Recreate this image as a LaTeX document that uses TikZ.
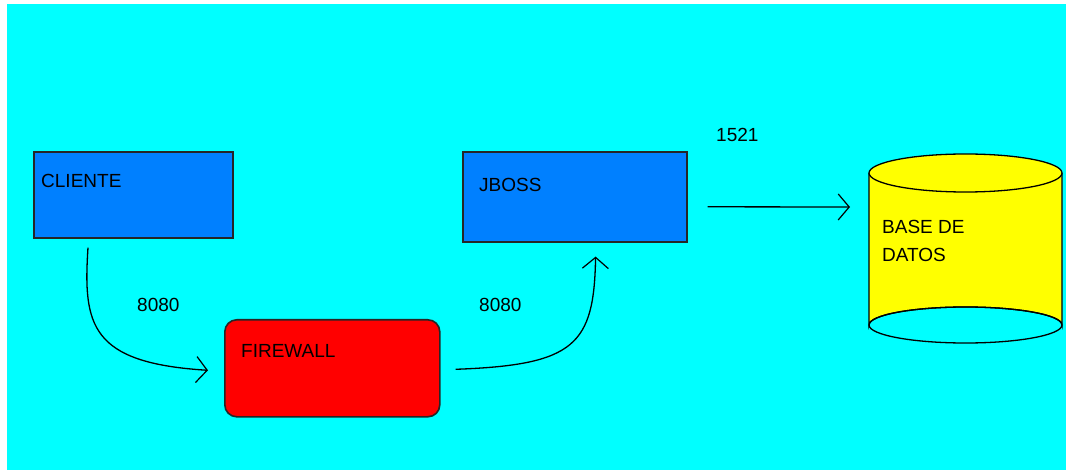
\documentclass[tikz,border=0pt]{standalone}
\usepackage{fontspec}
\setmainfont{Liberation Sans}
\usetikzlibrary{arrows.meta}
\definecolor{bgcyan}{HTML}{00FFFF}
\definecolor{boxblue}{HTML}{0080FF}
\definecolor{fwred}{HTML}{FF0000}
\definecolor{dbyellow}{HTML}{FFFF00}
\tikzset{
  box/.style={draw=black!85, line width=1.6pt, inner sep=0pt, anchor=north west},
  lbl/.style={anchor=base west, inner sep=0pt, font=\fontsize{19}{22}\selectfont},
  conn/.style={line width=1.3pt, -{Straight Barb[length=11pt,width=26pt,line width=1.2pt]}},
}
\begin{document}
\begin{tikzpicture}[x=1pt,y=-1pt]
\useasboundingbox (0,0) rectangle (1066,470);
\fill[white] (0,0) rectangle (1066,470);
\fill[bgcyan] (7,4) rectangle (1066,470);
% boxes
\node[box, fill=boxblue, minimum width=199pt, minimum height=86pt] (cliente) at (33,151) {};
\node[box, fill=boxblue, minimum width=224pt, minimum height=90pt] (jboss) at (462,151) {};
\node[box, fill=fwred, rounded corners=12pt, minimum width=215pt, minimum height=97pt] (firewall) at (224,319) {};
% database cylinder
\filldraw[fill=dbyellow, draw=black, line width=1.3pt] (869,173) -- (869,325) arc[start angle=180, end angle=360, x radius=96.5, y radius=18] -- (1062,173);
\draw[line width=1.3pt] (965.5,325) ellipse[x radius=96.5, y radius=18];
\filldraw[fill=dbyellow, draw=black, line width=1.3pt] (965.5,173) ellipse[x radius=96.5, y radius=19];
\coordinate (db) at (869,207);
% labels
\node[lbl] (tcliente) at (41,188) {CLIENTE};
\node[lbl] (tjboss) at (479,192) {JBOSS};
\node[lbl] (tfirewall) at (241,358) {FIREWALL};
\node[lbl] (tdb1) at (882,234) {BASE DE};
\node[lbl] (tdb2) at (882,262) {DATOS};
\node[lbl] (p1) at (137,312) {8080};
\node[lbl] (p2) at (479,312) {8080};
\node[lbl] (p3) at (716,142) {1521};
% connector end points
\coordinate (a0) at ([xshift=55pt,yshift=-9pt]cliente.south west);
\coordinate (a1) at ([xshift=-16pt,yshift=-2pt]firewall.west);
\coordinate (b0) at ([xshift=15pt,yshift=-1pt]firewall.east);
\coordinate (b1) at ([xshift=-92pt,yshift=-14pt]jboss.south east);
\coordinate (c0) at ([xshift=20pt,yshift=-10pt]jboss.east);
\coordinate (c1) at ([xshift=-19pt]db);
% connectors
\draw[conn] (a0) .. controls (83,325) and (90,363) .. (a1);
\draw[conn] (b0) .. controls (575,365) and (594,345) .. (b1);
\draw[conn] (c0) -- (c1);
\end{tikzpicture}
\end{document}
